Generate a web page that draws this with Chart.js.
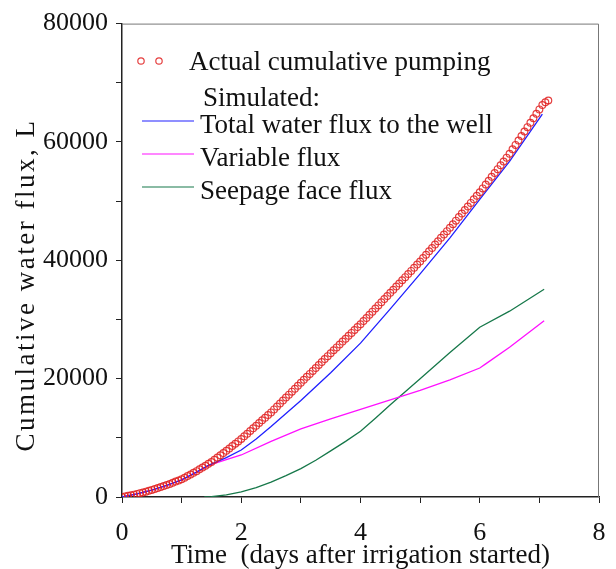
<!DOCTYPE html>
<html>
<head>
<meta charset="utf-8">
<script src="https://cdn.jsdelivr.net/npm/chart.js@4"></script>
<style>
  html, body { margin: 0; padding: 0; background: #fff; }
  #wrap { width: 616px; height: 569px; }
</style>
</head>
<body>
<div id="wrap"><canvas id="fluxChart" width="616" height="569"></canvas></div>
<script>
// values (time in days, flux in litres)
var actualTime = [0, 0.05, 0.1, 0.15, 0.2, 0.25, 0.3, 0.35, 0.4, 0.45, 0.5, 0.55, 0.6, 0.65, 0.7, 0.75, 0.8, 0.85, 0.9, 0.95,
  1, 1.05, 1.1, 1.15, 1.2, 1.25, 1.3, 1.35, 1.4, 1.45, 1.5, 1.55, 1.6, 1.65, 1.7, 1.75, 1.8, 1.85, 1.9, 1.95,
  2, 2.05, 2.1, 2.15, 2.2, 2.25, 2.3, 2.35, 2.4, 2.45, 2.5, 2.55, 2.6, 2.65, 2.7, 2.75, 2.8, 2.85, 2.9, 2.95,
  3, 3.05, 3.1, 3.15, 3.2, 3.25, 3.3, 3.35, 3.4, 3.45, 3.5, 3.55, 3.6, 3.65, 3.7, 3.75, 3.8, 3.85, 3.9, 3.95,
  4, 4.05, 4.1, 4.15, 4.2, 4.25, 4.3, 4.35, 4.4, 4.45, 4.5, 4.55, 4.6, 4.65, 4.7, 4.75, 4.8, 4.85, 4.9, 4.95,
  5, 5.05, 5.1, 5.15, 5.2, 5.25, 5.3, 5.35, 5.4, 5.45, 5.5, 5.55, 5.6, 5.65, 5.7, 5.75, 5.8, 5.85, 5.9, 5.95,
  6, 6.05, 6.1, 6.15, 6.2, 6.25, 6.3, 6.35, 6.4, 6.45, 6.5, 6.55, 6.6, 6.65, 6.7, 6.75, 6.8, 6.85, 6.9, 6.95,
  7, 7.05, 7.1, 7.15];
var actualFlux = [0, 100, 200, 300, 400, 520, 650, 770, 900, 1050, 1200, 1350, 1500, 1670, 1850, 2020, 2200, 2400, 2600, 2800,
  3000, 3260, 3530, 3800, 4080, 4370, 4670, 4980, 5290, 5600, 5900, 6280, 6660, 7040, 7420, 7800, 8200, 8600, 9000, 9400,
  9800, 10250, 10700, 11150, 11600, 12050, 12500, 12950, 13400, 13850, 14300, 14800, 15300, 15800, 16300, 16800, 17300, 17800, 18300, 18800,
  19300, 19800, 20300, 20800, 21300, 21800, 22300, 22800, 23300, 23800, 24300, 24790, 25280, 25770, 26260, 26750, 27240, 27730, 28220, 28710,
  29200, 29730, 30260, 30790, 31320, 31850, 32380, 32910, 33440, 33970, 34500, 35030, 35560, 36090, 36620, 37150, 37680, 38210, 38740, 39270,
  39800, 40370, 40940, 41510, 42080, 42650, 43220, 43790, 44360, 44930, 45500, 46100, 46700, 47300, 47900, 48500, 49100, 49700, 50300, 50900,
  51500, 52150, 52800, 53450, 54100, 54750, 55400, 56050, 56700, 57350, 58000, 58750, 59500, 60250, 61000, 61750, 62500, 63250, 64000, 64750,
  65500, 66250, 66700, 67000];

var totalTime = [0, 0.25, 0.5, 0.75, 1, 1.25, 1.45, 1.75, 2, 2.25, 2.5, 2.75, 3, 3.5, 4, 4.5, 5, 5.5, 6, 6.5, 7.05];
var totalFlux = [0, 520, 1150, 1950, 2900, 4200, 5350, 6650, 7950, 9800, 11900, 14100, 16300, 21000, 26000, 31800, 37700, 43800, 50300, 56700, 64700];

var variableTime = [0, 0.25, 0.5, 0.75, 1, 1.25, 1.45, 1.75, 2, 2.5, 3, 3.5, 4, 4.5, 5, 5.5, 6, 6.1, 6.5, 7.08];
var variableFlux = [0, 520, 1150, 1950, 2900, 4200, 5350, 6300, 7100, 9400, 11500, 13200, 14800, 16400, 18000, 19800, 21800, 22500, 25300, 29800];

var seepageTime = [1.38, 1.5, 1.75, 2, 2.25, 2.5, 2.75, 3, 3.25, 3.5, 3.75, 4, 4.25, 4.5, 4.75, 5, 5.5, 6, 6.5, 7.08];
var seepageFlux = [0, 60, 350, 850, 1600, 2500, 3600, 4800, 6200, 7800, 9400, 11100, 13300, 15600, 17800, 20000, 24400, 28700, 31400, 35100];

var seriesLabels = ['Actual cumulative pumping', 'Total water flux to the well', 'Variable flux', 'Seepage face flux'];
var xTicks = [0, 2, 4, 6, 8];
var yTicks = [0, 20000, 40000, 60000, 80000];
var yTitle = 'Cumulative water flux, L';

function pairs(xs, ys) {
  return xs.map(function (x, i) { return {x: x, y: ys[i]}; });
}

var serif = '"Liberation Serif", "DejaVu Serif", serif';

// legend drawn inside the plot, including the "Simulated:" heading
var legendBox = {
  id: 'legendBox',
  afterDraw: function (chart) {
    var ctx = chart.ctx;
    var sets = chart.data.datasets;
    ctx.save();
    ctx.font = '27px ' + serif;
    ctx.fillStyle = '#111';
    ctx.textBaseline = 'middle';
    ctx.textAlign = 'left';

    ctx.strokeStyle = sets[0].borderColor;
    ctx.lineWidth = 1.2;
    [141, 159].forEach(function (cx) {
      ctx.beginPath();
      ctx.arc(cx, 61, 3.2, 0, Math.PI * 2);
      ctx.stroke();
    });
    ctx.fillText(sets[0].label, 189, 63);
    ctx.fillText('Simulated:', 203, 99);

    var rows = [121, 154, 187];
    for (var i = 1; i < 4; i++) {
      var y = rows[i - 1];
      ctx.strokeStyle = sets[i].borderColor;
      ctx.lineWidth = 1.2;
      ctx.beginPath();
      ctx.moveTo(142, y);
      ctx.lineTo(194, y);
      ctx.stroke();
      ctx.fillText(sets[i].label, 200, y + 5);
    }

    // y axis title, spaced out like the original
    ctx.translate(27, 285);
    ctx.rotate(-Math.PI / 2);
    ctx.textAlign = 'center';
    if ('letterSpacing' in ctx) ctx.letterSpacing = '2.5px';
    ctx.fillText(yTitle, 0, 0);
    ctx.restore();
  }
};

// grey frame on top and right
var frame = {
  id: 'frame',
  beforeDatasetsDraw: function (chart) {
    var a = chart.chartArea, ctx = chart.ctx;
    ctx.save();
    ctx.strokeStyle = '#777';
    ctx.lineWidth = 1;
    ctx.beginPath();
    ctx.moveTo(a.left, a.top + 0.5);
    ctx.lineTo(a.right - 0.5, a.top + 0.5);
    ctx.lineTo(a.right - 0.5, a.bottom);
    ctx.stroke();
    ctx.restore();
  }
};

var ctx = document.getElementById('fluxChart').getContext('2d');
var chart = new Chart(ctx, {
  type: 'scatter',
  data: {
    datasets: [{
      label: seriesLabels[0],
      data: pairs(actualTime, actualFlux),
      showLine: false,
      pointRadius: 3.4,
      pointBorderWidth: 1.2,
      borderColor: 'rgba(225, 30, 30, 0.85)',
      backgroundColor: 'rgba(0,0,0,0)'
    }, {
      label: seriesLabels[1],
      data: pairs(totalTime, totalFlux),
      showLine: true,
      pointRadius: 0,
      borderWidth: 1.3,
      borderColor: '#2020ff'
    }, {
      label: seriesLabels[2],
      data: pairs(variableTime, variableFlux),
      showLine: true,
      pointRadius: 0,
      borderWidth: 1.3,
      borderColor: '#ff10ff'
    }, {
      label: seriesLabels[3],
      data: pairs(seepageTime, seepageFlux),
      showLine: true,
      pointRadius: 0,
      borderWidth: 1.3,
      borderColor: '#17784a'
    }]
  },
  options: {
    responsive: false,
    animation: false,
    layout: { padding: { left: 0, right: 17, top: 21, bottom: 0 } },
    plugins: {
      legend: { display: false },
      tooltip: { enabled: false }
    },
    elements: { line: { tension: 0 } },
    scales: {
      x: {
        type: 'linear',
        min: 0,
        max: 8,
        afterFit: function (s) {
          s.height = 72;
          s.paddingLeft = 0;
          s.paddingRight = 0;
        },
        border: { color: '#222', width: 1.5 },
        grid: { drawOnChartArea: false, tickLength: 6, color: '#222' },
        ticks: {
          stepSize: 1,
          autoSkip: false,
          maxRotation: 0,
          padding: 15,
          color: '#111',
          font: { family: serif, size: 26 },
          callback: function (v) { return xTicks.indexOf(v) >= 0 ? String(v) : ''; }
        },
        title: {
          display: true,
          text: 'Time  (days after irrigation started)',
          color: '#111',
          font: { family: serif, size: 27, lineHeight: 1 },
          padding: { top: 0, bottom: 0 }
        }
      },
      y: {
        type: 'linear',
        min: 0,
        max: 80000,
        afterFit: function (s) { s.width = 122; },
        border: { color: '#222', width: 1.5 },
        grid: { drawOnChartArea: false, tickLength: 6, color: '#222' },
        ticks: {
          stepSize: 10000,
          autoSkip: false,
          padding: 8,
          color: '#111',
          font: { family: serif, size: 26 },
          callback: function (v) { return yTicks.indexOf(v) >= 0 ? String(v) : ''; }
        }
      }
    }
  },
  plugins: [frame, legendBox]
});
</script>
</body>
</html>
